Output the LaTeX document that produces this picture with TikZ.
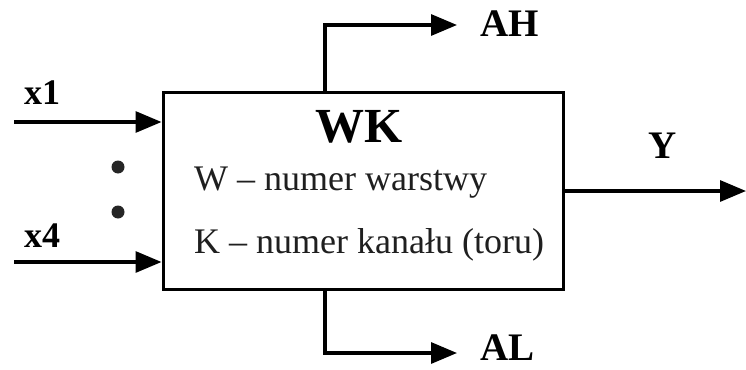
\documentclass[tikz,border=0pt]{standalone}
\usepackage{fontspec}
\setmainfont{Liberation Serif}
\usetikzlibrary{arrows.meta}
\begin{document}
\begin{tikzpicture}[x=1pt,y=-1pt,
  wire/.style={line width=3.2pt},
  arr/.style={wire,-{Triangle[length=26pt,width=21pt]}},
  lbl/.style={font=\fontsize{39}{40}\selectfont\bfseries, inner sep=0pt, anchor=base west},
  inlbl/.style={font=\fontsize{36}{38}\selectfont\bfseries, inner sep=0pt, anchor=base west},
  desc/.style={font=\fontsize{36}{38}\selectfont, text=black!88, inner sep=0pt, anchor=base west},
  dot/.style={circle, fill=black!85, minimum size=13pt, inner sep=0pt}]
\useasboundingbox[fill=white] (0,0) rectangle (746,369);

% the block
\node[draw, line width=3pt, minimum width=400pt, minimum height=197pt, inner sep=0pt] (box) at (363,190.5) {};
\node[font=\fontsize{49}{50}\selectfont\bfseries, inner sep=0pt, anchor=base] (wk) at (359,142) {WK};
\node[desc] (wline) at (194,190) {W -- numer warstwy};
\node[desc] (kline) at (194,253) {K -- numer kanału (toru)};

% inputs
\coordinate (x1s) at (14,122);
\coordinate (x4s) at (14,262);
\draw[arr] (x1s) -- (box.west |- x1s);
\draw[arr] (x4s) -- (box.west |- x4s);
\node[inlbl] (x1) at (24,104) {x1};
\node[inlbl] (x4) at (24,247) {x4};
\node[dot] (d1) at (118,167) {};
\node[dot] (d2) at (118,212) {};

% upper and lower outputs
\coordinate (ahc) at (325,25);
\coordinate (aht) at (457,25);
\coordinate (alc) at (325,353);
\coordinate (alt) at (457,353);
\draw[arr] (ahc |- box.north) -- (ahc) -- (aht);
\draw[arr] (alc |- box.south) -- (alc) -- (alt);
\node[lbl] (ah) at (480,37) {AH};
\node[lbl] (al) at (480,360) {AL};

% main output
\coordinate (yt) at (746,191);
\draw[arr] (box.east |- yt) -- (yt);
\node[lbl] (ylab) at (648,158) {Y};
\end{tikzpicture}
\end{document}
